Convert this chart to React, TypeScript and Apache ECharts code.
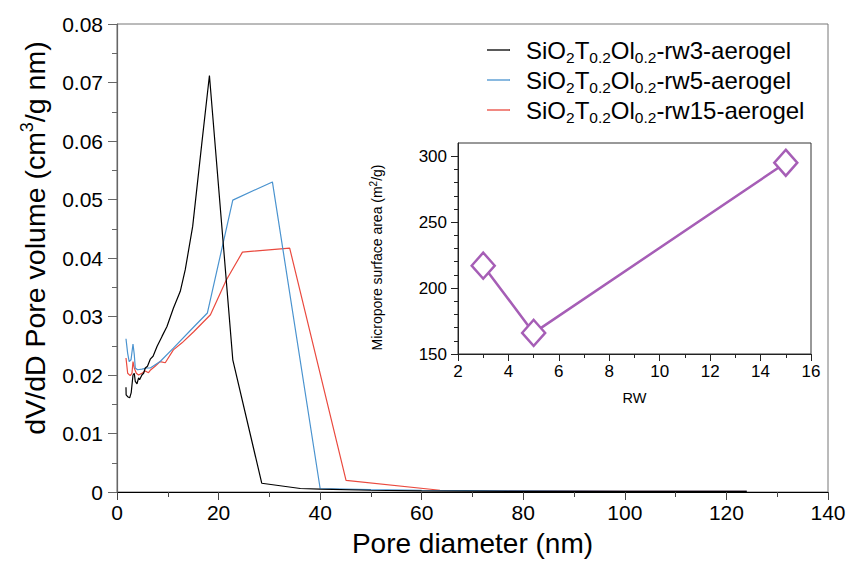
import React, { useEffect, useRef } from "react";
import * as echarts from "echarts";

// Main chart: pore size distribution (pore diameter in nm, dV/dD in cm3/g nm)
const rw3Diameter = [1.77, 1.8, 2.1, 2.5, 2.8, 3.15, 3.4, 3.6, 3.94, 4.25, 4.45, 4.9, 5.24, 5.57, 6.0, 6.55, 7.1, 7.9, 8.86, 9.84, 11.1, 12.46, 13.44, 14.9, 16.7, 18.2, 22.8, 28.5, 36.1, 40, 50, 60, 80, 100, 124];
const rw3Volume = [0.0179, 0.0166, 0.0163, 0.0161, 0.017, 0.02, 0.0203, 0.0189, 0.0185, 0.0195, 0.0192, 0.02, 0.0203, 0.0212, 0.0215, 0.0227, 0.0232, 0.0249, 0.0266, 0.0283, 0.0314, 0.0343, 0.038, 0.0454, 0.0596, 0.0712, 0.0226, 0.0015, 0.0006, 0.0005, 0.0003, 0.0002, 0.0001, 0.0001, 0.0001];

const rw5Diameter = [1.77, 2.1, 2.4, 2.76, 3.15, 3.4, 3.6, 4.05, 4.9, 5.9, 6.55, 8.5, 11.1, 15.1, 17.8, 22.8, 30.6, 40, 50, 60, 80, 100, 124];
const rw5Volume = [0.0262, 0.0237, 0.0223, 0.0226, 0.0253, 0.0235, 0.0212, 0.0209, 0.021, 0.0212, 0.0212, 0.0223, 0.0246, 0.0282, 0.0306, 0.0499, 0.053, 0.0006, 0.0004, 0.0003, 0.0002, 0.0001, 0.0001];

const rw15Diameter = [1.77, 2.1, 2.6, 2.95, 3.15, 3.4, 3.8, 4.25, 4.9, 5.57, 6.2, 6.55, 7.5, 8.5, 9.5, 11.1, 12.8, 15.1, 18.4, 21.5, 24.7, 34.0, 45.1, 63.6, 80, 100, 124];
const rw15Volume = [0.0229, 0.0203, 0.0199, 0.0203, 0.0223, 0.0212, 0.0203, 0.02, 0.0203, 0.0207, 0.0204, 0.0208, 0.0215, 0.0223, 0.0221, 0.0243, 0.0255, 0.0274, 0.0303, 0.0362, 0.041, 0.0417, 0.002, 0.0003, 0.0002, 0.0001, 0.0001];

const seriesNames = ["SiO2T0.2Ol0.2-rw3-aerogel", "SiO2T0.2Ol0.2-rw5-aerogel", "SiO2T0.2Ol0.2-rw15-aerogel"];
const legendLabels = [
  "SiO{sub|2}T{sub|0.2}Ol{sub|0.2}-rw3-aerogel",
  "SiO{sub|2}T{sub|0.2}Ol{sub|0.2}-rw5-aerogel",
  "SiO{sub|2}T{sub|0.2}Ol{sub|0.2}-rw15-aerogel",
];
const seriesColors = ["#000000", "#4a93cf", "#ea4a3f"];

// Inset: micropore surface area vs RW
const rwValues = [3, 5, 15];
const microporeArea = [217, 166, 295];

const mainYTicks = [0, 0.08, 0.01];
const mainXTicks = [0, 140, 20];
const insetXTicks = [2, 16, 2];
const insetYMajor = [150, 200, 250, 300];
const insetYMinor = [160, 170, 180, 190, 210, 220, 230, 240, 260, 270, 280, 290];

export default function App() {
  const ref = useRef<HTMLDivElement>(null);
  useEffect(() => {
    const chart = echarts.init(ref.current!, null, { renderer: "svg" });
    const zip = (xs: number[], ys: number[]) => xs.map((x, i) => [x, ys[i]]);
    const font = "'Liberation Sans', Arial, Helvetica, sans-serif";
    const purple = "#a65eb6";
    const diam = [rw3Diameter, rw5Diameter, rw15Diameter];
    const vols = [rw3Volume, rw5Volume, rw15Volume];

    chart.setOption({
      animation: false,
      backgroundColor: "#ffffff",
      textStyle: { fontFamily: font },
      grid: [
        { left: 117, top: 24, right: 21, bottom: 70, show: true, borderColor: "#777", borderWidth: 1, backgroundColor: "transparent" },
        { left: 458, top: 143, right: 38, bottom: 208, show: true, borderColor: "#333", borderWidth: 1, backgroundColor: "#fff" },
      ],
      legend: {
        orient: "vertical",
        left: 487,
        top: 35,
        padding: 0,
        itemWidth: 23,
        itemHeight: 1.3,
        itemGap: 0,
        icon: "rect",
        data: seriesNames,
        formatter: (name: string) => legendLabels[seriesNames.indexOf(name)],
        textStyle: {
          fontFamily: font,
          fontSize: 24,
          color: "#000",
          lineHeight: 30,
          padding: [0, 0, 0, 11],
          rich: { sub: { fontFamily: font, fontSize: 15.5, verticalAlign: "bottom", lineHeight: 18, color: "#000" } },
        },
      },
      xAxis: [
        {
          type: "value", gridIndex: 0, min: mainXTicks[0], max: mainXTicks[1], interval: mainXTicks[2],
          name: "Pore diameter (nm)", nameLocation: "middle", nameGap: 37,
          nameTextStyle: { fontFamily: font, fontSize: 28, color: "#000" },
          axisLine: { lineStyle: { color: "#000", width: 1.2 } },
          axisTick: { length: 8, lineStyle: { color: "#444" } },
          minorTick: { show: true, splitNumber: 2, length: 5, lineStyle: { color: "#444" } },
          axisLabel: { fontFamily: font, fontSize: 21, color: "#000", margin: 10 },
          splitLine: { show: false },
        },
        {
          type: "value", gridIndex: 1, min: insetXTicks[0], max: insetXTicks[1], interval: insetXTicks[2],
          name: "RW", nameLocation: "middle", nameGap: 36,
          nameTextStyle: { fontFamily: font, fontSize: 14.5, color: "#000" },
          axisLine: { lineStyle: { color: "#222", width: 1 } },
          axisTick: { length: 7, lineStyle: { color: "#222" } },
          minorTick: { show: true, splitNumber: 2, length: 4, lineStyle: { color: "#222" } },
          axisLabel: { fontFamily: font, fontSize: 17, color: "#000", margin: 9 },
          splitLine: { show: false },
        },
      ],
      yAxis: [
        {
          type: "value", gridIndex: 0, min: mainYTicks[0], max: mainYTicks[1], interval: mainYTicks[2],
          name: "dV/dD Pore volume (cm{sup|3}/g nm)", nameLocation: "middle", nameGap: 60,
          nameTextStyle: {
            fontFamily: font, fontSize: 28.5, color: "#000", lineHeight: 33,
            padding: [0, 0, 0, 40],
            rich: { sup: { fontFamily: font, fontSize: 18, verticalAlign: "top", lineHeight: 20, color: "#000" } },
          },
          axisLine: { lineStyle: { color: "#666", width: 1.2 } },
          axisTick: { length: 9, lineStyle: { color: "#666" } },
          minorTick: { show: true, splitNumber: 2, length: 5, lineStyle: { color: "#666" } },
          axisLabel: { fontFamily: font, fontSize: 21, color: "#000", margin: 14 },
          splitLine: { show: false },
        },
        {
          type: "value", gridIndex: 1, min: 150, max: 310,
          name: "Micropore surface area (m{sup|2}/g)", nameLocation: "middle", nameGap: 72,
          nameTextStyle: {
            fontFamily: font, fontSize: 14, color: "#000", lineHeight: 18,
            padding: [0, 18, 0, 0],
            rich: { sup: { fontFamily: font, fontSize: 10, verticalAlign: "top", lineHeight: 11, color: "#000" } },
          },
          axisLine: { lineStyle: { color: "#222", width: 1 } },
          axisTick: { length: 7, customValues: insetYMajor, lineStyle: { color: "#222" } },
          axisLabel: { fontFamily: font, fontSize: 17, color: "#000", margin: 11, customValues: insetYMajor },
          splitLine: { show: false },
        },
        {
          type: "value", gridIndex: 1, min: 150, max: 310, position: "left", offset: 0,
          axisLine: { show: false },
          axisTick: { length: 4, customValues: insetYMinor, lineStyle: { color: "#222" } },
          axisLabel: { show: false },
          splitLine: { show: false },
        },
      ],
      series: [
        ...seriesNames.map((name, i) => ({
          name,
          type: "line",
          xAxisIndex: 0,
          yAxisIndex: 0,
          data: zip(diam[i], vols[i]),
          symbol: "none",
          lineStyle: { color: seriesColors[i], width: 1.2 },
          itemStyle: { color: seriesColors[i] },
          z: 3 - i,
        })),
        {
          name: "inset",
          type: "line",
          xAxisIndex: 1,
          yAxisIndex: 1,
          data: zip(rwValues, microporeArea),
          symbol: "diamond",
          symbolSize: [23, 26],
          lineStyle: { color: purple, width: 2.5 },
          itemStyle: { color: "#fff", borderColor: purple, borderWidth: 2.5 },
          z: 5,
        },
      ],
    });
    return () => chart.dispose();
  }, []);
  return <div ref={ref} style={{ position: "absolute", left: 0, top: 0, width: 849, height: 562, background: "#fff" }} />;
}
